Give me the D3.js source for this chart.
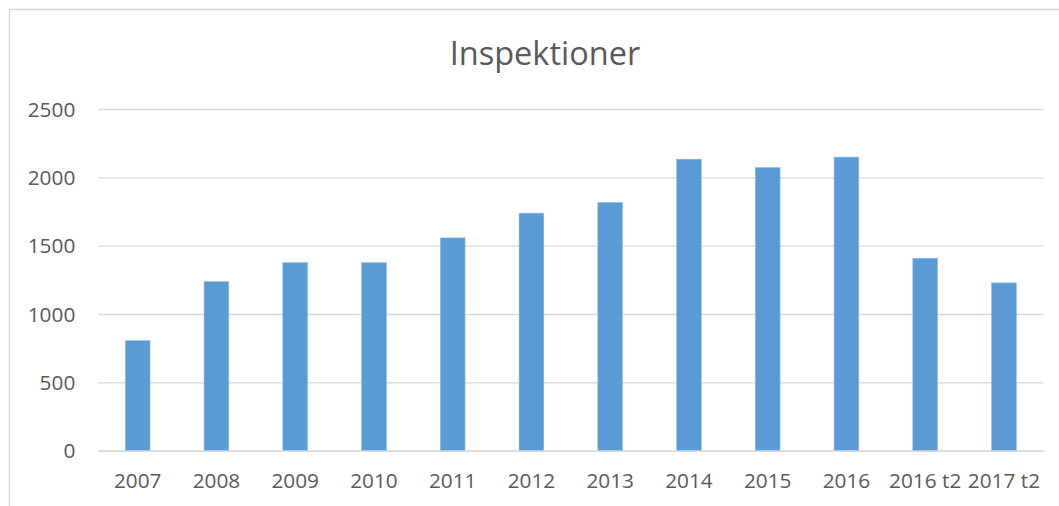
<!DOCTYPE html>
<html>
<head>
<meta charset="utf-8">
<script src="https://cdn.jsdelivr.net/npm/d3@7"></script>
<style>
  html, body { margin: 0; padding: 0; background: #fff; }
  svg { display: block; }
</style>
</head>
<body>
<script>
// Inspections per period
const categories = ["2007", "2008", "2009", "2010", "2011", "2012", "2013", "2014", "2015", "2016", "2016 t2", "2017 t2"];
const inspections = [805, 1237, 1376, 1376, 1557, 1738, 1816, 2133, 2072, 2148, 1408, 1228];
const yTicks = [0, 500, 1000, 1500, 2000, 2500];
const chartTitle = "Inspektioner";

const W = 1059, H = 506;
const plot = { left: 98.3, right: 1043.3, top: 109, bottom: 450.7 };
const fontFamily = "'Open Sans', 'Liberation Sans', sans-serif";
const textColor = "#595959";
const gridColor = "#d9d9d9";
const barColor = "#5b9bd5";

const svg = d3.select("body").append("svg")
  .attr("width", W).attr("height", H);

// chart frame (left and top edges visible)
svg.append("path")
  .attr("d", `M9.5,${H} V9.5 H${W}`)
  .attr("fill", "none")
  .attr("stroke", gridColor)
  .attr("stroke-width", 1.5);

const x = d3.scaleBand()
  .domain(categories)
  .range([plot.left, plot.right])
  .paddingInner(0.686)
  .paddingOuter(0.343);

const y = d3.scaleLinear()
  .domain([0, 2500])
  .range([plot.bottom, plot.top]);

// horizontal gridlines + y labels
const yAxis = d3.axisLeft(y)
  .tickValues(yTicks)
  .tickSize(-(plot.right - plot.left))
  .tickPadding(23)
  .tickFormat(d3.format("d"));

const gy = svg.append("g")
  .attr("transform", `translate(${plot.left},0)`)
  .call(yAxis);
gy.select(".domain").remove();
gy.selectAll(".tick line")
  .attr("stroke", gridColor)
  .attr("stroke-width", 1.3);
gy.selectAll(".tick text")
  .attr("fill", textColor)
  .attr("font-family", fontFamily)
  .attr("font-size", 20.8)
  .attr("dy", "0.34em");

// bars
svg.append("g")
  .selectAll("rect")
  .data(inspections)
  .join("rect")
  .attr("x", (d, i) => x(categories[i]))
  .attr("y", d => y(d))
  .attr("width", x.bandwidth())
  .attr("height", d => y(0) - y(d))
  .attr("fill", barColor)
  .attr("stroke", "#8fbbe6")
  .attr("stroke-width", 0.6);

// category axis
const xAxis = d3.axisBottom(x).tickSize(0).tickPadding(23);
const gx = svg.append("g")
  .attr("transform", `translate(0,${plot.bottom})`)
  .call(xAxis);
gx.select(".domain")
  .attr("stroke", gridColor)
  .attr("stroke-width", 1.3);
gx.selectAll(".tick text")
  .attr("fill", textColor)
  .attr("font-family", fontFamily)
  .attr("font-size", 20.8);

// title
svg.append("text")
  .attr("x", 545)
  .attr("y", 64.5)
  .attr("text-anchor", "middle")
  .attr("fill", textColor)
  .attr("font-family", fontFamily)
  .attr("font-size", 32.5)
  .text(chartTitle);
</script>
</body>
</html>
